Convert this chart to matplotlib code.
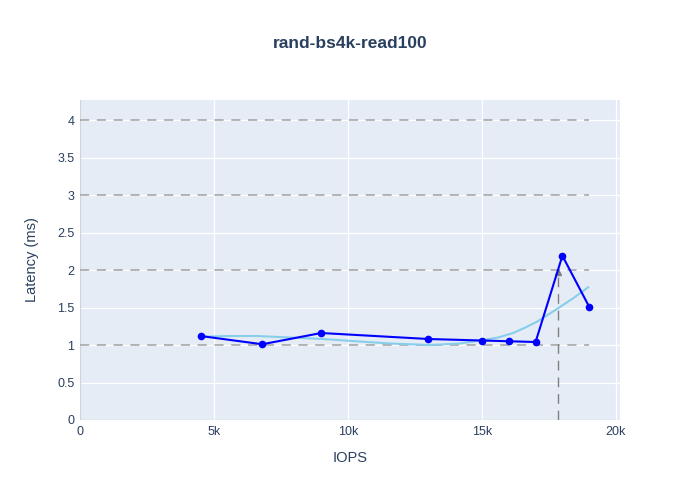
import numpy as np
import matplotlib.pyplot as plt
from matplotlib.ticker import FuncFormatter

plt.rcParams['font.family'] = ['Liberation Sans', 'DejaVu Sans']

# measured points
iops = [4500, 6800, 9000, 13000, 15000, 16000, 17000, 18000, 19000]
latency = [1.12, 1.01, 1.16, 1.08, 1.06, 1.05, 1.04, 2.19, 1.51]

# trend curve
trend_x = [4550, 5600, 6600, 7840, 9070, 10300, 11570, 13060, 14180, 14930,
           15600, 16160, 16600, 17050, 17840, 18430, 18960]
trend_y = [1.11, 1.12, 1.12, 1.10, 1.08, 1.05, 1.02, 1.00, 1.02, 1.06,
           1.10, 1.16, 1.23, 1.31, 1.49, 1.63, 1.77]

ref_levels = [1, 2, 3, 4]
ref_end = 19000
knee_x = 17840
knee_y = 2.0

txt = '#2a3f5f'

def main():
	fig = plt.figure(figsize=(7, 5), dpi=100)
	ax = fig.add_axes([80 / 700, 80 / 500, 540 / 700, 320 / 500])
	ax.set_facecolor('#E5ECF6')

	ax.set_xlim(0, 20150)
	ax.set_ylim(0, 4.267)
	ax.set_xticks([0, 5000, 10000, 15000, 20000])
	ax.set_yticks(np.arange(0, 4.01, 0.5))
	ax.xaxis.set_major_formatter(FuncFormatter(lambda v, p: '0' if v == 0 else f'{v/1000:g}k'))
	ax.yaxis.set_major_formatter(FuncFormatter(lambda v, p: f'{v:g}'))
	ax.grid(True, color='white', linewidth=0.9)
	ax.set_axisbelow(True)
	for s in ax.spines.values():
		s.set_visible(False)
	ax.axhline(0, color='#d0d5dc', linewidth=1.0, zorder=1)
	ax.axvline(0, color='#d0d5dc', linewidth=1.0, zorder=1)
	ax.tick_params(length=0, labelsize=9, colors=txt, pad=4)

	# reference lines
	for lv in ref_levels:
		ax.plot([0, ref_end], [lv, lv], color='#a0a0a0', linewidth=1.1,
				dashes=(6, 5), zorder=2)
	ax.plot([knee_x, knee_x], [0, knee_y], color='#808080', linewidth=1.0,
			dashes=(7, 5), zorder=2)
	ax.plot([knee_x], [knee_y - 0.03], marker='^', markersize=4, color='#808080', zorder=2)

	ax.plot(trend_x, trend_y, color='#87CEEB', linewidth=1.5, zorder=3)
	ax.plot(iops, latency, color='#0000FF', linewidth=1.5, marker='o',
			markersize=4.5, zorder=4)

	fig.text(350 / 700, 1 - 458 / 500, 'IOPS', ha='center', va='center',
			 fontsize=10.5, color=txt)
	fig.text(32 / 700, 1 - 260 / 500, 'Latency (ms)', ha='center', va='center',
			 fontsize=10.5, color=txt, rotation=90)
	fig.text(350 / 700, 1 - 44 / 500, 'rand-bs4k-read100', ha='center', va='center',
			 fontsize=12.5, fontweight='bold', color=txt)

	fig.savefig('out.png', dpi=100)


if __name__ == '__main__':
	main()
